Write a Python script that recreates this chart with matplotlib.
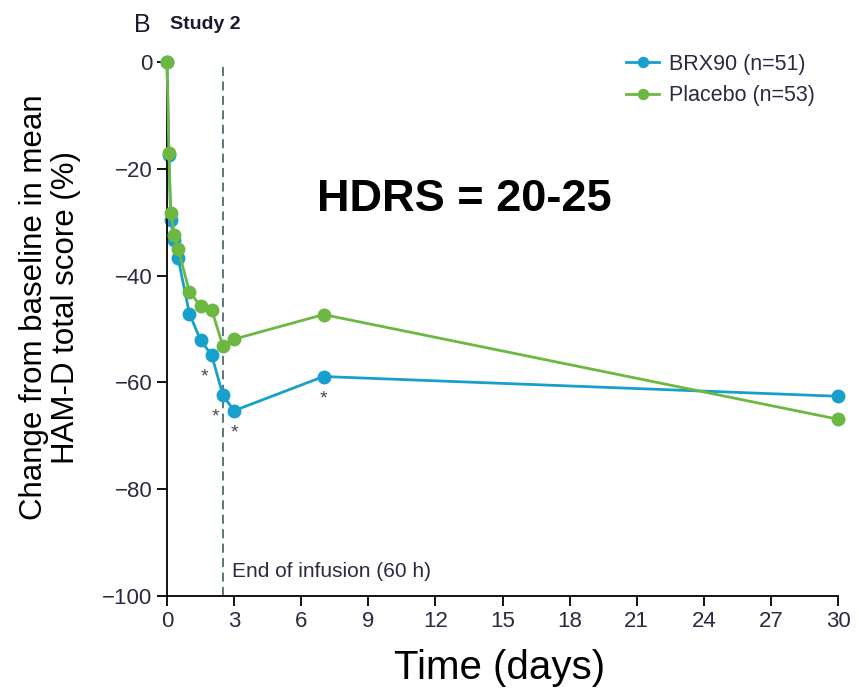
import numpy as np
import matplotlib
matplotlib.use("Agg")
from matplotlib import pyplot as plt

# time points (days) and % change from baseline in HAM-D total score
days = [0, 0.083, 0.167, 0.333, 0.5, 1, 1.5, 2, 2.5, 3, 7, 30]
brx90 = [0, -17.5, -29.6, -33.3, -36.8, -47.1, -52.1, -54.9, -62.4, -65.3, -58.9, -62.6]
placebo = [0, -17.1, -28.2, -32.4, -35.0, -43.0, -45.7, -46.4, -53.2, -51.9, -47.3, -66.9]
star_days = [2, 2.5, 3, 7]
xticks = [0, 3, 6, 9, 12, 15, 18, 21, 24, 27, 30]
yticks = [0, -20, -40, -60, -80, -100]
infusion_end = 2.5

blue = "#17a0cc"
green = "#6cb843"
narrow = ["Liberation Sans", "DejaVu Sans"]
arial = ["Liberation Sans", "DejaVu Sans"]
txtcol = "#2a2a40"

fig = plt.figure(figsize=(8.59, 6.94), dpi=100)
ax = fig.add_axes([0.1944, 0.1412, 0.7812, 0.7695])

ax.axvline(infusion_end, color="#4d6b73", lw=1.3, ls=(0, (5, 3)), zorder=1)
ax.plot(days, placebo, "-o", color=green, lw=2, ms=9, clip_on=False,
        label="Placebo (n=53)", zorder=3)
ax.plot(days, brx90, "-o", color=blue, lw=2, ms=9, clip_on=False,
        label="BRX90 (n=51)", zorder=2)

for d in star_days:
    yv = brx90[days.index(d)]
    dx = -5 if d < 3 else 0
    ax.annotate("*", (d, yv), xytext=(dx, -16), textcoords="offset points",
                ha="center", va="center", fontsize=14, color="#4a4a4a",
                family=arial)

ax.text(2.9, -95.5, "End of infusion (60 h)", family=narrow, fontsize=15,
        color=txtcol, va="center", ha="left")

ax.set_xlim(0, 30)
ax.set_ylim(-100, 0)
ax.set_xticks(xticks)
ax.set_yticks(yticks)
ax.set_yticklabels(["0", "\u221220", "\u221240", "\u221260", "\u221280", "\u2212100"])
ax.spines["top"].set_visible(False)
ax.spines["right"].set_visible(False)
for s in ["left", "bottom"]:
    ax.spines[s].set_linewidth(1.3)
ax.tick_params(length=7, width=1.3, labelsize=16, labelcolor=txtcol)
for lab in ax.get_xticklabels() + ax.get_yticklabels():
    lab.set_family(narrow)

h, l = ax.get_legend_handles_labels()
leg = ax.legend([h[1], h[0]], [l[1], l[0]], loc="upper right",
                bbox_to_anchor=(0.995, 1.052), frameon=False, markerscale=0.8,
                handlelength=1.5, handletextpad=0.5, labelspacing=0.5,
                prop={"family": narrow, "size": 15.5})
for t in leg.get_texts():
    t.set_color(txtcol)

fig.text(0.058, 0.5576, "Change from baseline in mean\nHAM-D total score (%)",
         rotation=90, ha="center", va="center", multialignment="center",
         family=arial, fontsize=22.5, linespacing=1.1)
fig.text(0.582, 0.0375, "Time (days)", ha="center", va="center",
         family=arial, fontsize=29)
fig.text(0.541, 0.712, "HDRS = 20-25", ha="center", va="center",
         family=arial, fontsize=32.5, fontweight="bold")
fig.text(0.156, 0.964, "B", ha="left", va="center", family=narrow,
         fontsize=18, color="#1a1a30")
fig.text(0.198, 0.964, "Study 2", ha="left", va="center", family=narrow,
         fontsize=14, fontweight="bold", color="#1a1a30")

fig.savefig("out.png", dpi=100)
